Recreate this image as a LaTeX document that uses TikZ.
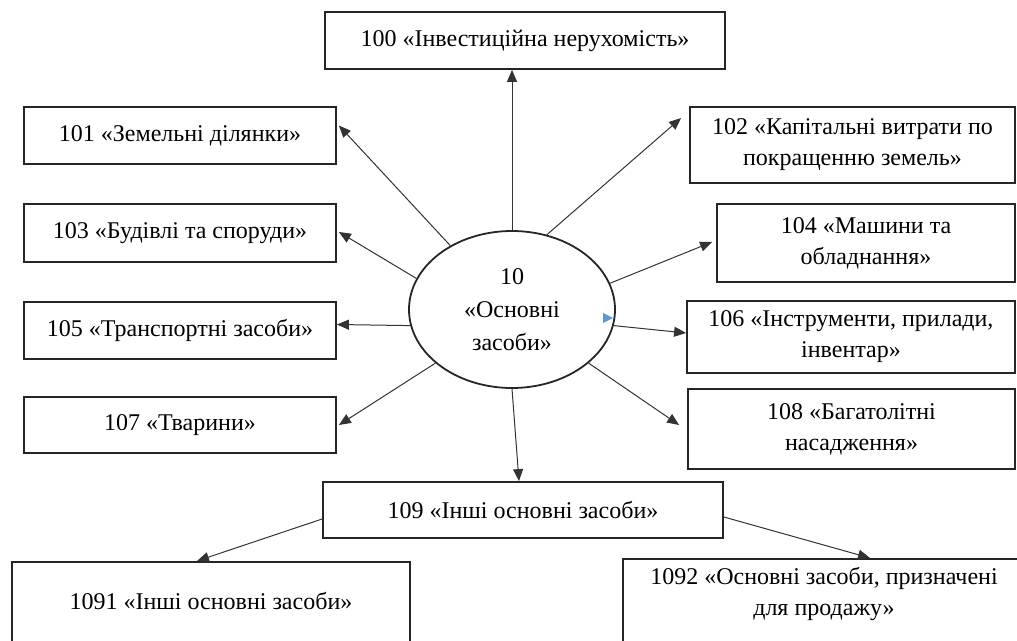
\documentclass[tikz,border=0pt]{standalone}
\usepackage{fontspec}
\setmainfont{Liberation Serif}
\usetikzlibrary{arrows.meta,calc,shapes.geometric}
\definecolor{tribl}{RGB}{91,155,213}
\begin{document}
\begin{tikzpicture}[x=1bp,y=-1bp,
  box/.style={draw=black!85, line width=1.8bp, rectangle, inner sep=0pt, align=center,
              font=\fontsize{24bp}{31bp}\selectfont},
  conn/.style={draw=black!80, line width=1bp, -{Triangle[length=12bp,width=10bp]}}]
\useasboundingbox (0,0) rectangle (1017,641);
\clip (0,0) rectangle (1017,641);

\node[box, minimum width=400bp, minimum height=57bp] (b100) at (525,40.5) {100 «Інвестиційна нерухомість»};
\node[box, minimum width=312bp, minimum height=57bp] (b101) at (180,135.5) {101 «Земельні ділянки»};
\node[box, minimum width=312bp, minimum height=58bp] (b103) at (180,233) {103 «Будівлі та споруди»};
\node[box, minimum width=312bp, minimum height=57bp] (b105) at (180,330.5) {105 «Транспортні засоби»};
\node[box, minimum width=312bp, minimum height=56bp] (b107) at (180,425) {107 «Тварини»};
\node[box, minimum width=325bp, minimum height=76bp] (b102) at (852.5,145) {102 «Капітальні витрати по\\покращенню земель»};
\node[box, minimum width=298bp, minimum height=78bp] (b104) at (866,243) {104 «Машини та\\обладнання»};
\node[box, minimum width=328bp, minimum height=72bp] (b106) at (851,337) {106 «Інструменти, прилади,\\інвентар»};
\node[box, minimum width=327bp, minimum height=80bp] (b108) at (851.5,429) {108 «Багатолітні\\насадження»};
\node[box, minimum width=400bp, minimum height=56bp] (b109) at (523,510) {109 «Інші основні засоби»};
\node[box, minimum width=398bp, anchor=north, inner ysep=30.5bp, text depth=40bp] (b1091) at (211,561) {1091 «Інші основні засоби»};
\node[box, minimum width=402bp, anchor=north, inner ysep=8.5bp, text depth=60bp] (b1092) at (824,558) {1092 «Основні засоби, призначені\\для продажу»};

\node[draw=black!85, ellipse, line width=1.8bp, minimum width=206bp, minimum height=157bp, inner sep=0pt,
      align=center, font=\fontsize{24bp}{33bp}\selectfont] (e) at (512,309.5) {10\\«Основні\\засоби»};

\fill[tribl] (603,313) -- (613,318) -- (603,323) -- cycle;

\draw[conn] (e.north) -- (e.north |- b100.south);
\draw[conn] (e.134) -- ($(b101.east)+(2,-10)$);
\draw[conn] (e.65) -- ($(b102.west)+(-8,-27)$);
\draw[conn] (e.162) -- ($(b103.east)+(2,-1)$);
\draw[conn] (e.15) -- ($(b104.west)+(-4,-1)$);
\draw[conn] (e.189) -- ($(b105.east)+(0,-6)$);
\draw[conn] (e.351) -- ($(b106.west)+(0,-4)$);
\draw[conn] (e.215) -- ($(b107.east)+(2,0)$);
\draw[conn] (e.325) -- ($(b108.west)+(-8,-4)$);
\draw[conn] (e.south) -- ($(b109.north)+(-4,0)$);
\draw[conn] ($(b109.west)+(0,9)$) -- ($(b1091.north)+(-14,0)$);
\draw[conn] ($(b109.east)+(0,7)$) -- ($(b1092.north)+(46,0)$);
\end{tikzpicture}
\end{document}
